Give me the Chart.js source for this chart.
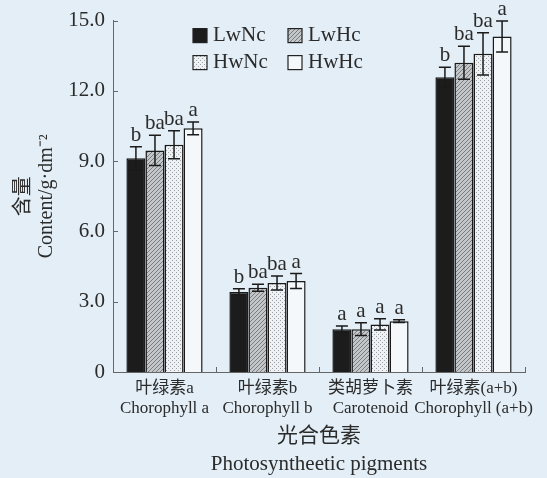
<!DOCTYPE html>
<html>
<head>
<meta charset="utf-8">
<script src="https://cdn.jsdelivr.net/npm/chart.js@4"></script>
<style>
  html, body { margin: 0; padding: 0; background: #e3eef6; }
  #wrap { width: 547px; height: 478px; }
</style>
</head>
<body>
<div id="wrap"><canvas id="pigmentChart" width="547" height="478"></canvas></div>
<script>
const categoriesZh = ["叶绿素a", "叶绿素b", "类胡萝卜素", "叶绿素(a+b)"];
const categoriesEn = ["Chorophyll a", "Chorophyll b", "Carotenoid", "Chorophyll (a+b)"];
const seriesNames = ["LwNc", "LwHc", "HwNc", "HwHc"];

const lwnc = [9.12, 3.42, 1.83, 12.58];
const lwhc = [9.46, 3.6, 1.83, 13.2];
const hwnc = [9.7, 3.8, 2.03, 13.58];
const hwhc = [10.4, 3.88, 2.17, 14.32];

const lwncErr = [0.5, 0.13, 0.13, 0.43];
const lwhcErr = [0.65, 0.15, 0.27, 0.7];
const hwncErr = [0.6, 0.3, 0.24, 0.9];
const hwhcErr = [0.27, 0.32, 0.06, 0.66];

const lwncSig = ["b", "b", "a", "b"];
const lwhcSig = ["ba", "ba", "a", "ba"];
const hwncSig = ["ba", "ba", "a", "ba"];
const hwhcSig = ["a", "a", "a", "a"];

const yTicks = [0, 3, 6, 9, 12, 15];

const serif = "'Liberation Serif', 'Noto Sans CJK SC', serif";
const ink = "#2b2b2b";

function makePattern(kind) {
  let c = document.createElement("canvas");
  c.width = 4;
  c.height = 4;
  let g = c.getContext("2d");
  if (kind === "hatch") {
    g.fillStyle = "#c4c7c9";
    g.fillRect(0, 0, 4, 4);
    g.fillStyle = "#7a7d80";
    // diagonal dots -> fine hatching
    g.fillRect(0, 3, 1, 1);
    g.fillRect(1, 2, 1, 1);
    g.fillRect(2, 1, 1, 1);
    g.fillRect(3, 0, 1, 1);
  } else {
    g.fillStyle = "#eef2f4";
    g.fillRect(0, 0, 4, 4);
    g.fillStyle = "#9aa0a4";
    g.fillRect(0, 0, 1, 1);
    g.fillRect(2, 2, 1, 1);
  }
  return g.createPattern(c, "repeat");
}

const fills = ["#1c1c1c", makePattern("hatch"), makePattern("dots"), "#f4f8fa"];
const values = [lwnc, lwhc, hwnc, hwhc];
const errors = [lwncErr, lwhcErr, hwncErr, hwhcErr];
const sigs = [lwncSig, lwhcSig, hwncSig, hwhcSig];

// error bars + significance letters
const errorBarPlugin = {
  id: "errorBars",
  afterDatasetsDraw(chart) {
    let ctx = chart.ctx;
    let y = chart.scales.y;
    ctx.save();
    ctx.strokeStyle = "#1a1a1a";
    ctx.lineWidth = 1.5;
    ctx.fillStyle = ink;
    ctx.font = "21px " + serif;
    ctx.textAlign = "center";
    ctx.textBaseline = "bottom";
    chart.data.datasets.forEach((ds, i) => {
      let meta = chart.getDatasetMeta(i);
      meta.data.forEach((bar, j) => {
        let v = ds.data[j];
        let e = errors[i][j];
        let top = y.getPixelForValue(v + e);
        let bot = y.getPixelForValue(v - e);
        let cap = 6;
        ctx.beginPath();
        ctx.moveTo(bar.x, top);
        ctx.lineTo(bar.x, bot);
        ctx.moveTo(bar.x - cap, top);
        ctx.lineTo(bar.x + cap, top);
        ctx.moveTo(bar.x - cap, bot);
        ctx.lineTo(bar.x + cap, bot);
        ctx.stroke();
        ctx.fillText(sigs[i][j], bar.x, top - 1);
      });
    });
    ctx.restore();
  },
};

// inward tick marks on both axes
const tickMarkPlugin = {
  id: "tickMarks",
  afterDraw(chart) {
    let ctx = chart.ctx;
    let area = chart.chartArea;
    let x = chart.scales.x;
    let y = chart.scales.y;
    let n = categoriesZh.length;
    let step = (area.right - area.left) / n;
    ctx.save();
    ctx.strokeStyle = "#666";
    ctx.lineWidth = 1;
    ctx.beginPath();
    yTicks.forEach((t) => {
      let py = Math.round(y.getPixelForValue(t)) + 0.5;
      ctx.moveTo(area.left, py);
      ctx.lineTo(area.left + 5, py);
    });
    for (let k = 0; k < n; k++) {
      let px = Math.round(x.getPixelForValue(k) + step / 2) + 0.5;
      ctx.moveTo(px, area.bottom);
      ctx.lineTo(px, area.bottom - 5);
    }
    ctx.stroke();
    ctx.restore();
  },
};

// legend in two columns inside the plot
const legendPlugin = {
  id: "boxLegend",
  afterDraw(chart) {
    let ctx = chart.ctx;
    let area = chart.chartArea;
    ctx.save();
    ctx.font = "21px " + serif;
    ctx.textBaseline = "middle";
    ctx.textAlign = "left";
    chart.data.datasets.forEach((ds, i) => {
      let col = i % 2;
      let row = Math.floor(i / 2);
      let bx = area.left + 80 + col * 95;
      let by = area.top + 8 + row * 27;
      ctx.fillStyle = ds.backgroundColor;
      ctx.fillRect(bx, by, 14, 14);
      ctx.strokeStyle = "#222";
      ctx.lineWidth = 1.2;
      ctx.strokeRect(bx, by, 14, 14);
      ctx.fillStyle = ink;
      ctx.fillText(ds.label, bx + 20, by + 7);
    });
    ctx.restore();
  },
};

const ctx = document.getElementById("pigmentChart").getContext("2d");

new Chart(ctx, {
  type: "bar",
  data: {
    labels: categoriesZh.map((zh, i) => [zh, categoriesEn[i]]),
    datasets: seriesNames.map((name, i) => ({
      label: name,
      data: values[i],
      backgroundColor: fills[i],
      borderColor: "#1a1a1a",
      borderWidth: 1.5,
      barPercentage: 1,
      categoryPercentage: 0.74,
    })),
  },
  options: {
    responsive: false,
    animation: false,
    devicePixelRatio: 1,
    layout: {
      padding: { top: 20, right: 22, bottom: 0, left: 0 },
    },
    plugins: {
      legend: { display: false },
      tooltip: { enabled: false },
    },
    scales: {
      x: {
        grid: { display: false, drawTicks: false },
        border: { display: true, color: "#666", width: 1 },
        ticks: {
          color: ink,
          padding: 6,
          autoSkip: false,
          maxRotation: 0,
          minRotation: 0,
          font: { family: serif, size: 17, lineHeight: 1.2 },
        },
        title: {
          display: true,
          text: ["光合色素", "Photosyntheetic pigments"],
          color: ink,
          font: { family: serif, size: 21, lineHeight: 1.34 },
          padding: { top: 0, bottom: -1 },
        },
        afterFit: (s) => {
          s.height = 106;
        },
      },
      y: {
        min: 0,
        max: 15,
        grid: { display: false, drawTicks: false },
        border: { display: true, color: "#666", width: 1 },
        afterBuildTicks: (s) => {
          s.ticks = yTicks.map((v) => ({ value: v }));
        },
        ticks: {
          color: ink,
          padding: 8,
          font: { family: serif, size: 21 },
          callback: (v) => (v === 0 ? "0" : v.toFixed(1)),
        },
        title: {
          display: true,
          text: ["含量", "Content/g·dm⁻²"],
          color: ink,
          font: { family: serif, size: 20, lineHeight: 1.15 },
          padding: { top: 12, bottom: 0 },
        },
        afterFit: (s) => {
          s.width = 113;
        },
      },
    },
  },
  plugins: [errorBarPlugin, tickMarkPlugin, legendPlugin],
});
</script>
</body>
</html>
